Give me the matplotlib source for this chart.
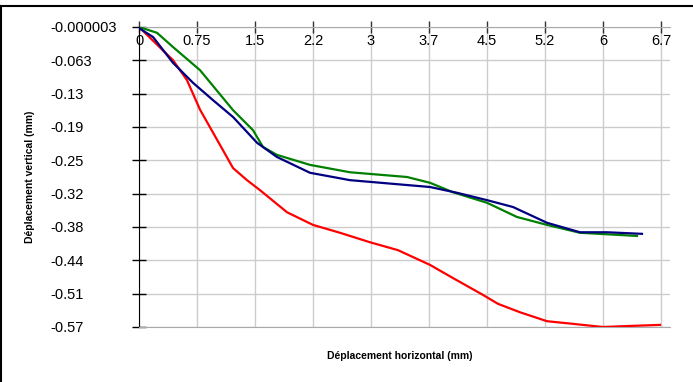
import numpy as np
import matplotlib
matplotlib.use("Agg")
import matplotlib.pyplot as plt
from matplotlib.lines import Line2D

plt.rcParams['font.family'] = ['Liberation Sans', 'DejaVu Sans']

# --- DONNEES ---
x_rouge = [0, 0.436, 0.616, 0.783, 1.001, 1.207, 1.386, 1.553, 1.900, 2.233, 2.580, 2.965,
           3.324, 3.735, 4.030, 4.415, 4.608, 4.890, 5.237, 5.570, 5.955, 6.302, 6.687]
y_rouge = [0, -0.063, -0.101, -0.157, -0.214, -0.268, -0.291, -0.310, -0.352, -0.376, -0.391, -0.409,
           -0.424, -0.452, -0.477, -0.509, -0.526, -0.542, -0.559, -0.564, -0.570, -0.568, -0.566]

x_bleu = [0, 0.180, 0.436, 0.693, 0.950, 1.207, 1.515, 1.771, 2.195, 2.708, 3.735, 4.082,
          4.467, 4.800, 5.237, 5.660, 6.007, 6.456]
y_bleu = [-0.002, -0.019, -0.068, -0.106, -0.139, -0.171, -0.220, -0.247, -0.277, -0.291, -0.304, -0.315,
          -0.329, -0.342, -0.372, -0.390, -0.390, -0.393]

x_vert = [0, 0.231, 0.436, 0.783, 1.207, 1.463, 1.592, 1.771, 2.195, 2.708, 3.440, 3.735,
          4.030, 4.467, 4.852, 5.237, 5.660, 6.392]
y_vert = [0, -0.011, -0.038, -0.082, -0.158, -0.196, -0.228, -0.243, -0.262, -0.276, -0.285, -0.296,
          -0.314, -0.334, -0.361, -0.376, -0.391, -0.397]

x_labels = ['0', '0.75', '1.5', '2.2', '3', '3.7', '4.5', '5.2', '6', '6.7']
y_labels = ['-0.000003', '-0.063', '-0.13', '-0.19', '-0.25', '-0.32', '-0.38', '-0.44', '-0.51', '-0.57']

# --- FIGURE ---
fig = plt.figure(figsize=(6.93, 3.82), dpi=100)
ax = fig.add_axes([139/693, 1-327/382, (670-139)/693, 300/382])

ax.plot(x_rouge, y_rouge, color='#ff0000', lw=1.6, zorder=3)
ax.plot(x_bleu, y_bleu, color='#000080', lw=1.6, zorder=4)
ax.plot(x_vert, y_vert, color='#008000', lw=1.6, zorder=3)

x_max = 6.7
y_min = -0.57
ax.set_xlim(0, x_max * 531 / 522)
ax.set_ylim(y_min, 0)

ax.set_xticks(np.linspace(0, x_max, 10))
ax.set_xticklabels(x_labels)
ax.set_yticks(np.linspace(0, y_min, 10))
ax.set_yticklabels(y_labels)

ax.grid(True, color='#cccccc', lw=1)
ax.set_axisbelow(True)

ax.spines['right'].set_visible(False)
ax.spines['top'].set_color('#aaaaaa')
ax.spines['bottom'].set_color('#aaaaaa')
ax.spines['left'].set_color('black')

ax.tick_params(axis='x', top=True, bottom=False, labeltop=True, labelbottom=False,
               direction='inout', length=8, width=1, color='#333333', pad=-19, labelsize=10.5)
ax.tick_params(axis='y', direction='inout', length=10, width=1, color='black', pad=59, labelsize=10.5)
for lab in ax.get_yticklabels():
    lab.set_horizontalalignment('left')

ax.set_xlabel('Déplacement horizontal (mm)', fontsize=7.5, fontweight='bold')
ax.xaxis.set_label_coords((400-139)/531, -0.08)
ax.set_ylabel('Déplacement vertical (mm)', fontsize=7.5, fontweight='bold')
ax.yaxis.set_label_coords((35-139)/531, 0.5)

# cadre
fig.add_artist(Line2D([0, 1], [1-6/382, 1-6/382], color='black', lw=1.5))
fig.add_artist(Line2D([1/693, 1/693], [0, 1-6/382], color='black', lw=1.5))

fig.savefig('out.png', dpi=100)
